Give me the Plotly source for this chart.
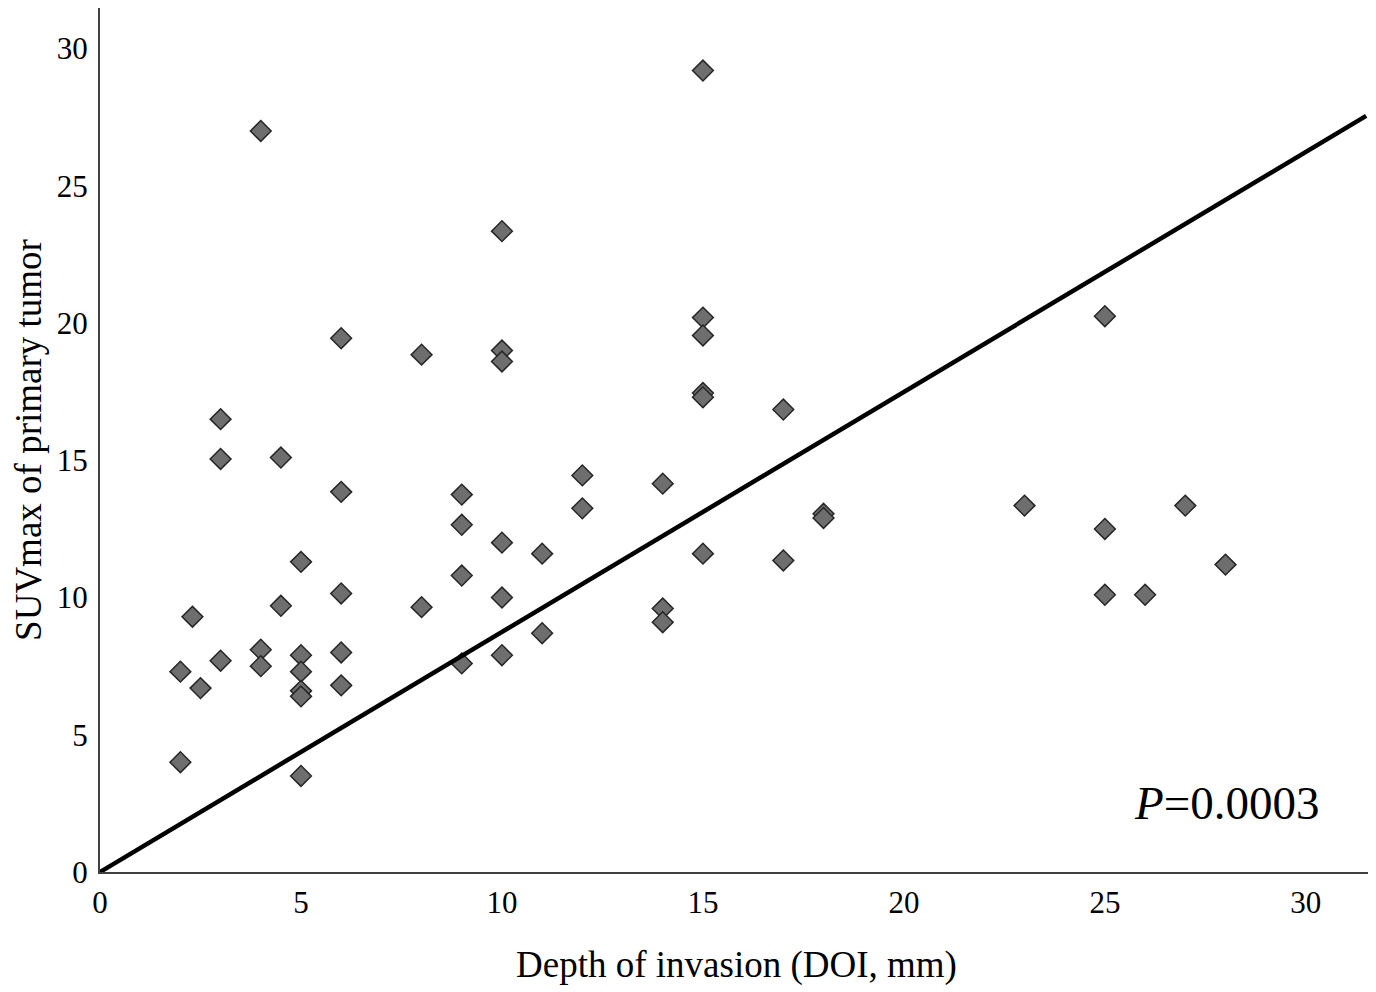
import plotly.graph_objects as go

# depth of invasion (mm) vs SUVmax of primary tumor
doi = [2, 2, 2.3, 2.5, 3, 3, 3, 4, 4, 4, 4.5, 4.5,
       5, 5, 5, 5, 5, 5, 6, 6, 6, 6, 6, 8, 8,
       9, 9, 9, 9, 10, 10, 10, 10, 10, 10, 11, 11, 12, 12,
       14, 14, 14, 15, 15, 15, 15, 15, 15, 17, 17, 18, 18,
       23, 25, 25, 25, 26, 27, 28]
suv = [7.3, 4.0, 9.3, 6.7, 16.5, 15.05, 7.7, 27.0, 8.1, 7.5, 15.1, 9.7,
       11.3, 7.9, 7.3, 6.6, 6.4, 3.5, 19.45, 13.85, 10.15, 8.0, 6.8, 18.85, 9.65,
       13.75, 12.65, 10.8, 7.6, 23.35, 19.0, 18.6, 12.0, 10.0, 7.9, 11.6, 8.7, 14.45, 13.25,
       14.15, 9.6, 9.1, 29.2, 20.2, 19.55, 17.45, 17.3, 11.6, 16.85, 11.35, 13.05, 12.9,
       13.35, 20.25, 12.5, 10.1, 10.1, 13.35, 11.2]

# fitted line, drawn from the origin to the right edge
fit_x = [0, 31.5]
fit_y = [0, 27.55]

x_ticks = [0, 5, 10, 15, 20, 25, 30]
y_ticks = [0, 5, 10, 15, 20, 25, 30]

serif = "Liberation Serif"

fig = go.Figure()

fig.add_trace(go.Scatter(
    x=doi, y=suv, mode="markers",
    marker=dict(symbol="diamond", size=16, color="#6e6e6e",
                line=dict(color="#262626", width=1.5)),
    showlegend=False, cliponaxis=False,
))

fig.add_trace(go.Scatter(
    x=fit_x, y=fit_y, mode="lines",
    line=dict(color="black", width=4.5),
    showlegend=False, cliponaxis=False,
))

fig.add_annotation(
    x=30.37, y=2.5, xref="x", yref="y",
    text="<i>P</i>=0.0003", showarrow=False,
    xanchor="right", yanchor="middle",
    font=dict(family=serif, size=47, color="black"),
)

# page body has an 8px margin, so the figure is sized to fit inside the window
fig.update_layout(
    width=1368, height=984,
    paper_bgcolor="white", plot_bgcolor="white",
    margin=dict(l=92, r=3, t=0, b=120),
    font=dict(family=serif, color="black"),
    xaxis=dict(
        range=[0, 31.67], tickvals=x_ticks,
        showgrid=False, zeroline=False,
        showline=True, linecolor="#404040", linewidth=2,
        ticks="", ticklabelstandoff=2,
        tickfont=dict(family=serif, size=31, color="black"),
        title=dict(text="Depth of invasion (DOI, mm)", standoff=32,
                   font=dict(family=serif, size=37, color="black")),
    ),
    yaxis=dict(
        range=[0, 31.48], tickvals=y_ticks,
        showgrid=False, zeroline=False,
        showline=True, linecolor="#404040", linewidth=2,
        ticks="", ticklabelstandoff=4,
        tickfont=dict(family=serif, size=31, color="black"),
        title=dict(text="SUVmax of primary tumor", standoff=14,
                   font=dict(family=serif, size=37, color="black")),
    ),
)

fig.write_html("out.html")
